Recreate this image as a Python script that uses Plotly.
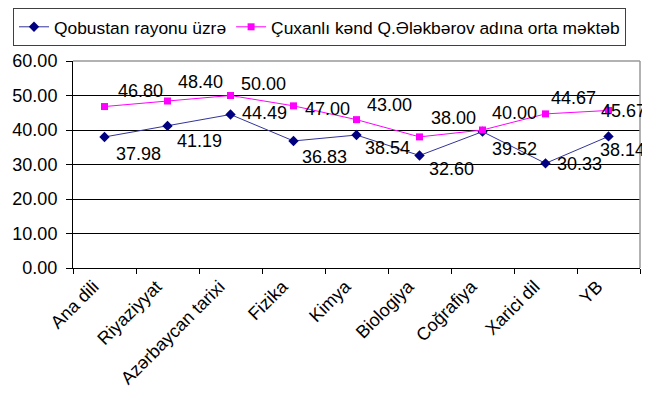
import plotly.graph_objects as go

categories = ["Ana dili", "Riyaziyyat", "Azərbaycan tarixi", "Fizika", "Kimya",
              "Biologiya", "Coğrafiya", "Xarici dil", "YB"]
rayon = [37.98, 41.19, 44.49, 36.83, 38.54, 32.60, 39.52, 30.33, 38.14]
mekteb = [46.80, 48.40, 50.00, 47.00, 43.00, 38.00, 40.00, 44.67, 45.67]
series_names = ["Qobustan rayonu üzrə", "Çuxanlı kənd Q.Ələkbərov adına orta məktəb"]
y_ticks = [0, 10, 20, 30, 40, 50, 60]

# data-label offsets in pixels (label centre relative to the marker; dy down)
rayon_dx = [34, 32, 34, 31, 31, 32, 32, 34, 14]
rayon_dy = [17, 15, -2, 16, 13, 13, 17, 1, 14]
mekteb_dx = [36, 33, 33, 34, 33, 34, 32, 28, 15]
mekteb_dy = [-16, -19, -12, 3, -15, -19, -17, -16, 1]

FONT = "Liberation Sans, Arial, sans-serif"

fig = go.Figure()
fig.add_trace(go.Scatter(
    x=categories, y=rayon, name=series_names[0], mode="lines+markers",
    line=dict(color="#333399", width=1),
    marker=dict(symbol="diamond", size=8, color="#000080"),
    cliponaxis=False,
))
fig.add_trace(go.Scatter(
    x=categories, y=mekteb, name=series_names[1], mode="lines+markers",
    line=dict(color="#FF00FF", width=1),
    marker=dict(symbol="square", size=7, color="#FF00FF"),
    cliponaxis=False,
))

annotations = []
for vals, dxs, dys in ((rayon, rayon_dx, rayon_dy), (mekteb, mekteb_dx, mekteb_dy)):
    for c, v, dx, dy in zip(categories, vals, dxs, dys):
        annotations.append(dict(
            x=c, y=v, xref="x", yref="y", text=f"{v:.2f}", showarrow=False,
            xanchor="center", yanchor="middle", xshift=dx, yshift=-dy,
            font=dict(size=18, family=FONT, color="#000000"),
        ))

# the page body adds an 8px offset; figure coordinates below account for it
W, H = 642, 389
plot_left, plot_right, plot_top, plot_bottom = 65, 632, 53, 260
ph = plot_bottom - plot_top
pw = plot_right - plot_left

fig.update_layout(
    width=W, height=H,
    margin=dict(l=plot_left, r=W - plot_right, t=plot_top, b=H - plot_bottom,
                pad=0, autoexpand=False),
    paper_bgcolor="white", plot_bgcolor="white",
    font=dict(family=FONT, size=16, color="#000000"),
    showlegend=True,
    annotations=annotations,
    legend=dict(
        orientation="h", x=(5 - plot_left) / pw, xanchor="left",
        y=1 + (plot_top - 0) / ph, yanchor="top",
        bordercolor="#404040", borderwidth=1,
        font=dict(size=17.4, family=FONT),
        itemwidth=30,
    ),
    xaxis=dict(
        type="category", range=[-0.5, 8.5], automargin=False,
        tickangle=-45, tickson="boundaries",
        ticks="outside", ticklen=5, tickcolor="#000000",
        showline=True, linecolor="#000000", linewidth=1,
        showgrid=False, ticklabelshift=-11, ticklabelstandoff=0,
        tickfont=dict(size=18, family=FONT),
    ),
    yaxis=dict(
        range=[0, 60], tickvals=y_ticks, tickformat=".2f", automargin=False,
        ticks="outside", ticklen=6, tickcolor="#000000",
        showline=True, linecolor="#000000", linewidth=1,
        showgrid=True, gridcolor="#000000", gridwidth=1,
        zeroline=False, ticklabelstandoff=5,
        tickfont=dict(size=18, family=FONT),
    ),
)
# gray plot-area border (top and right)
fig.add_shape(type="line", xref="paper", yref="paper", x0=0, x1=1, y0=1, y1=1,
              line=dict(color="#999999", width=1.5))
fig.add_shape(type="line", xref="paper", yref="paper", x0=1, x1=1, y0=0, y1=1,
              line=dict(color="#999999", width=1.5))

fig.write_html("out.html")
